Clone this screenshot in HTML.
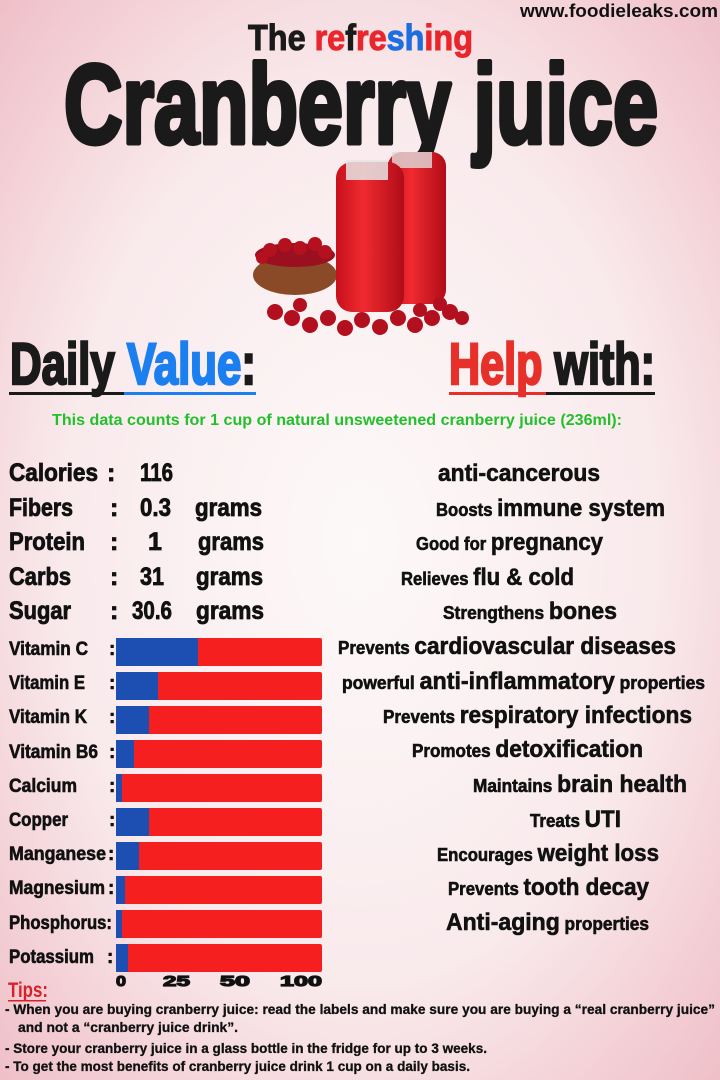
<!DOCTYPE html>
<html><head><meta charset="utf-8"><style>
html,body{margin:0;padding:0;width:720px;height:1080px;overflow:hidden}
svg text{font-family:"Liberation Sans Narrow","Liberation Sans",sans-serif;font-weight:bold}
</style></head><body>
<svg width="720" height="1080" viewBox="0 0 720 1080" xmlns="http://www.w3.org/2000/svg">
<defs>
<radialGradient id="bg" cx="50%" cy="50%" r="75%">
<stop offset="0" stop-color="#fdf9f9"/><stop offset="0.55" stop-color="#f9eaec"/><stop offset="1" stop-color="#eeb9c2"/>
</radialGradient>
<linearGradient id="juice" x1="0" x2="1"><stop offset="0" stop-color="#c8101c"/><stop offset="0.4" stop-color="#f02a30"/><stop offset="1" stop-color="#b00c18"/></linearGradient>
</defs>
<rect width="720" height="1080" fill="url(#bg)"/>
<text x="520" y="17" font-size="18" fill="#111" textLength="198" lengthAdjust="spacingAndGlyphs">www.foodieleaks.com</text>
<text x="248" y="50" font-size="36" fill="#1a1a1a" stroke="#1a1a1a" stroke-width="1" textLength="225" lengthAdjust="spacingAndGlyphs">The <tspan fill="#e8262c" stroke="#e8262c">re</tspan><tspan fill="#1a1a1a">f</tspan><tspan fill="#e8262c" stroke="#e8262c">re</tspan><tspan fill="#1c6fe0" stroke="#1c6fe0">sh</tspan><tspan fill="#e8262c" stroke="#e8262c">ing</tspan></text>
<text x="64" y="143" font-size="112" fill="#1a1a1a" stroke="#1a1a1a" stroke-width="5" stroke-linejoin="round" textLength="594" lengthAdjust="spacingAndGlyphs">Cranberry juice</text>
<!-- product illustration -->
<ellipse cx="295" cy="275" rx="42" ry="20" fill="#8a4a28"/>
<ellipse cx="295" cy="255" rx="40" ry="12" fill="#9b1020"/>
<g fill="#b5101e">
<circle cx="270" cy="250" r="7"/><circle cx="285" cy="245" r="7"/><circle cx="300" cy="248" r="7"/><circle cx="315" cy="244" r="7"/><circle cx="325" cy="252" r="7"/><circle cx="262" cy="258" r="6"/>
</g>
<rect x="388" y="152" width="58" height="152" rx="14" fill="url(#juice)"/>
<rect x="392" y="152" width="40" height="16" fill="#ddd" opacity="0.8"/>
<rect x="336" y="162" width="68" height="150" rx="16" fill="url(#juice)"/>
<rect x="346" y="160" width="42" height="20" fill="#e5e5e5" opacity="0.85"/>
<g fill="#b3101f">
<circle cx="275" cy="312" r="8"/><circle cx="292" cy="318" r="8"/><circle cx="310" cy="325" r="8"/><circle cx="328" cy="318" r="8"/><circle cx="345" cy="328" r="8"/><circle cx="362" cy="320" r="8"/><circle cx="380" cy="327" r="8"/><circle cx="398" cy="318" r="8"/><circle cx="415" cy="325" r="8"/><circle cx="432" cy="318" r="8"/><circle cx="450" cy="312" r="8"/><circle cx="462" cy="318" r="7"/><circle cx="300" cy="305" r="7"/><circle cx="440" cy="304" r="7"/><circle cx="420" cy="310" r="7"/>
</g>
<text x="10" y="384" font-size="58" fill="#1a1a1a" stroke="#1a1a1a" stroke-width="2.5" textLength="246" lengthAdjust="spacingAndGlyphs">Daily <tspan fill="#1c7ff0" stroke="#1c7ff0">Value</tspan>:</text>
<rect x="9" y="392" width="115" height="3" fill="#1a1a1a"/><rect x="124" y="392" width="132" height="3" fill="#1c7ff0"/>
<text x="449" y="384" font-size="58" fill="#1a1a1a" stroke="#1a1a1a" stroke-width="2.5" textLength="206" lengthAdjust="spacingAndGlyphs"><tspan fill="#e8302a" stroke="#e8302a">Help</tspan> with:</text>
<rect x="449" y="392" width="97" height="3" fill="#e8302a"/><rect x="546" y="392" width="109" height="3" fill="#1a1a1a"/>
<text x="52" y="425" font-size="16" fill="#22c02a" textLength="570" lengthAdjust="spacingAndGlyphs">This data counts for 1 cup of natural unsweetened cranberry juice (236ml):</text>
<g font-size="25" fill="#111" stroke="#111" stroke-width="0.8" lengthAdjust="spacingAndGlyphs">
<text x="9" y="481" textLength="89" lengthAdjust="spacingAndGlyphs">Calories</text><text x="107" y="481">:</text><text x="140" y="481" textLength="33" lengthAdjust="spacingAndGlyphs">116</text>
<text x="9" y="516" textLength="64" lengthAdjust="spacingAndGlyphs">Fibers</text><text x="110" y="516">:</text><text x="140" y="516" textLength="31" lengthAdjust="spacingAndGlyphs">0.3</text><text x="195" y="516" textLength="67" lengthAdjust="spacingAndGlyphs">grams</text>
<text x="9" y="550" textLength="76" lengthAdjust="spacingAndGlyphs">Protein</text><text x="110" y="550">:</text><text x="148" y="550">1</text><text x="198" y="550" textLength="66" lengthAdjust="spacingAndGlyphs">grams</text>
<text x="9" y="585" textLength="62" lengthAdjust="spacingAndGlyphs">Carbs</text><text x="110" y="585">:</text><text x="140" y="585" textLength="24" lengthAdjust="spacingAndGlyphs">31</text><text x="196" y="585" textLength="67" lengthAdjust="spacingAndGlyphs">grams</text>
<text x="9" y="619" textLength="62" lengthAdjust="spacingAndGlyphs">Sugar</text><text x="110" y="619">:</text><text x="132" y="619" textLength="40" lengthAdjust="spacingAndGlyphs">30.6</text><text x="196" y="619" textLength="68" lengthAdjust="spacingAndGlyphs">grams</text>
</g>
<g fill="#111" font-size="24" stroke="#111" stroke-width="0.6">
<text x="438" y="481" textLength="162" lengthAdjust="spacingAndGlyphs">anti-cancerous</text>
<text x="436" y="516" textLength="229" lengthAdjust="spacingAndGlyphs"><tspan font-size="18">Boosts </tspan>immune system</text>
<text x="416" y="550" textLength="187" lengthAdjust="spacingAndGlyphs"><tspan font-size="18">Good for </tspan>pregnancy</text>
<text x="401" y="585" textLength="173" lengthAdjust="spacingAndGlyphs"><tspan font-size="18">Relieves </tspan>flu &amp; cold</text>
<text x="443" y="619" textLength="174" lengthAdjust="spacingAndGlyphs"><tspan font-size="18">Strengthens </tspan>bones</text>
<text x="338" y="654" textLength="338" lengthAdjust="spacingAndGlyphs"><tspan font-size="18">Prevents </tspan>cardiovascular diseases</text>
<text x="342" y="689" textLength="363" lengthAdjust="spacingAndGlyphs"><tspan font-size="18">powerful </tspan>anti-inflammatory<tspan font-size="18"> properties</tspan></text>
<text x="383" y="723" textLength="309" lengthAdjust="spacingAndGlyphs"><tspan font-size="18">Prevents </tspan>respiratory infections</text>
<text x="412" y="757" textLength="231" lengthAdjust="spacingAndGlyphs"><tspan font-size="18">Promotes </tspan>detoxification</text>
<text x="473" y="792" textLength="214" lengthAdjust="spacingAndGlyphs"><tspan font-size="18">Maintains </tspan>brain health</text>
<text x="530" y="827" textLength="91" lengthAdjust="spacingAndGlyphs"><tspan font-size="18">Treats </tspan>UTI</text>
<text x="437" y="861" textLength="222" lengthAdjust="spacingAndGlyphs"><tspan font-size="18">Encourages </tspan>weight loss</text>
<text x="448" y="895" textLength="201" lengthAdjust="spacingAndGlyphs"><tspan font-size="18">Prevents </tspan>tooth decay</text>
<text x="446" y="930" textLength="203" lengthAdjust="spacingAndGlyphs">Anti-aging<tspan font-size="18"> properties</tspan></text>
</g>
<g font-size="19" fill="#111" stroke="#111" stroke-width="0.6">
<text x="9" y="655" textLength="79" lengthAdjust="spacingAndGlyphs">Vitamin C</text><text x="109" y="655">:</text>
<text x="9" y="689" textLength="76" lengthAdjust="spacingAndGlyphs">Vitamin E</text><text x="109" y="689">:</text>
<text x="9" y="723" textLength="78" lengthAdjust="spacingAndGlyphs">Vitamin K</text><text x="109" y="723">:</text>
<text x="9" y="758" textLength="89" lengthAdjust="spacingAndGlyphs">Vitamin B6</text><text x="109" y="758">:</text>
<text x="9" y="792" textLength="68" lengthAdjust="spacingAndGlyphs">Calcium</text><text x="109" y="792">:</text>
<text x="9" y="826" textLength="59" lengthAdjust="spacingAndGlyphs">Copper</text><text x="109" y="826">:</text>
<text x="9" y="860" textLength="97" lengthAdjust="spacingAndGlyphs">Manganese</text><text x="108" y="860">:</text>
<text x="9" y="894" textLength="96" lengthAdjust="spacingAndGlyphs">Magnesium</text><text x="108" y="894">:</text>
<text x="9" y="929" textLength="103" lengthAdjust="spacingAndGlyphs">Phosphorus:</text>
<text x="9" y="963" textLength="85" lengthAdjust="spacingAndGlyphs">Potassium</text><text x="107" y="963">:</text>
</g>
<g>
<rect x="116" y="638" width="206" height="28" rx="2" fill="#f51f1f"/><rect x="116" y="638" width="82" height="28" fill="#1d4fb3"/>
<rect x="116" y="672" width="206" height="28" rx="2" fill="#f51f1f"/><rect x="116" y="672" width="42" height="28" fill="#1d4fb3"/>
<rect x="116" y="706" width="206" height="28" rx="2" fill="#f51f1f"/><rect x="116" y="706" width="33" height="28" fill="#1d4fb3"/>
<rect x="116" y="740" width="206" height="28" rx="2" fill="#f51f1f"/><rect x="116" y="740" width="18" height="28" fill="#1d4fb3"/>
<rect x="116" y="774" width="206" height="28" rx="2" fill="#f51f1f"/><rect x="116" y="774" width="6" height="28" fill="#1d4fb3"/>
<rect x="116" y="808" width="206" height="28" rx="2" fill="#f51f1f"/><rect x="116" y="808" width="33" height="28" fill="#1d4fb3"/>
<rect x="116" y="842" width="206" height="28" rx="2" fill="#f51f1f"/><rect x="116" y="842" width="23" height="28" fill="#1d4fb3"/>
<rect x="116" y="876" width="206" height="28" rx="2" fill="#f51f1f"/><rect x="116" y="876" width="9" height="28" fill="#1d4fb3"/>
<rect x="116" y="910" width="206" height="28" rx="2" fill="#f51f1f"/><rect x="116" y="910" width="6" height="28" fill="#1d4fb3"/>
<rect x="116" y="944" width="206" height="28" rx="2" fill="#f51f1f"/><rect x="116" y="944" width="12" height="28" fill="#1d4fb3"/>
</g>
<g font-size="15" fill="#111" stroke="#111" stroke-width="1.2" font-family="Liberation Sans">
<text x="116" y="986" textLength="10" lengthAdjust="spacingAndGlyphs">0</text><text x="163" y="986" textLength="27" lengthAdjust="spacingAndGlyphs">25</text><text x="220" y="986" textLength="30" lengthAdjust="spacingAndGlyphs">50</text><text x="280" y="986" textLength="42" lengthAdjust="spacingAndGlyphs">100</text>
</g>
<text x="8" y="997" font-size="21" fill="#d8202a" textLength="40" lengthAdjust="spacingAndGlyphs">Tips:</text>
<rect x="8" y="1000" width="38" height="1.5" fill="#d8202a"/>
<g font-size="14" fill="#111" stroke="#111" stroke-width="0.3">
<text x="5" y="1014" textLength="710" lengthAdjust="spacingAndGlyphs">- When you are buying cranberry juice: read the labels and make sure you are buying a  “real cranberry juice”</text>
<text x="18" y="1032" textLength="220" lengthAdjust="spacingAndGlyphs">and not a “cranberry juice drink”.</text>
<text x="5" y="1053" textLength="482" lengthAdjust="spacingAndGlyphs">- Store your cranberry juice in a glass bottle in the fridge for up to 3 weeks.</text>
<text x="5" y="1071" textLength="465" lengthAdjust="spacingAndGlyphs">- To get the most benefits of cranberry juice drink  1 cup on a daily basis.</text>
</g>
</svg>
</body></html>
